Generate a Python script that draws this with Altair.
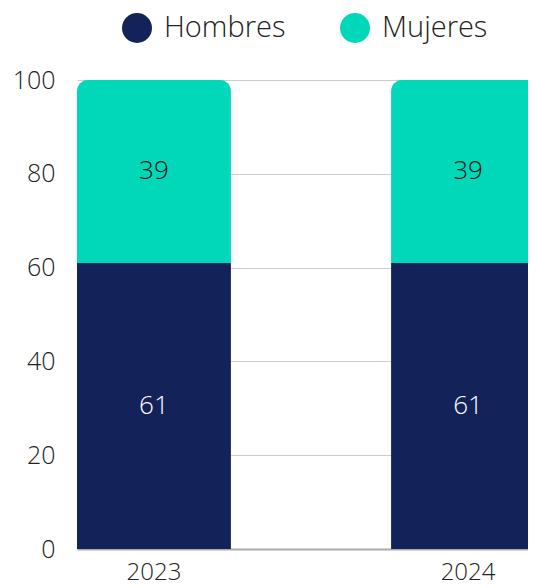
import altair as alt
import pandas as pd

years = ["2023", "2024"]
hombres = [61, 61]
mujeres = [39, 39]
series = ["Hombres", "Mujeres"]
colors = ["#14225a", "#00d8b9"]

rows = []
for i, y in enumerate(years):
    rows.append({"year": y, "serie": "Hombres", "value": hombres[i], "start": 0, "end": hombres[i]})
    rows.append({"year": y, "serie": "Mujeres", "value": mujeres[i], "start": hombres[i], "end": hombres[i] + mujeres[i]})
df = pd.DataFrame(rows)

FONT = "Open Sans"
FW = 300

x = alt.X("year:N", title=None, sort=years,
          scale=alt.Scale(paddingInner=0.51, paddingOuter=0, range=[0, 468]),
          axis=alt.Axis(labelAngle=0, labelFontSize=24, labelFont=FONT, labelFontWeight=FW,
                        labelColor="#222", labelPadding=11, ticks=False, domain=False))
y = alt.Y("start:Q", title=None, scale=alt.Scale(domain=[0, 100]),
          axis=alt.Axis(values=[0, 20, 40, 60, 80, 100], labelFontSize=25, labelFont=FONT,
                        labelFontWeight=FW, labelColor="#222",
                        labelPadding=22, ticks=False, domain=False,
                        gridColor=alt.condition(alt.datum.value == 0, alt.value("#aaaaaa"), alt.value("#cccccc")),
                        gridWidth=alt.condition(alt.datum.value == 0, alt.value(2), alt.value(1))))
color = alt.Color("serie:N", scale=alt.Scale(domain=series, range=colors),
                  legend=alt.Legend(title=None, orient="none", direction="horizontal",
                                    legendX=45, legendY=-67, symbolType="circle", symbolSize=900,
                                    symbolStrokeWidth=0, labelFontSize=29, labelFont=FONT,
                                    labelFontWeight=FW, labelColor="#222", columnPadding=54,
                                    labelOffset=12))

base = alt.Chart(df)

bar_h = base.transform_filter(alt.datum.serie == "Hombres").mark_bar(clip=True).encode(
    x=x, y=y, y2="end:Q", color=color)
bar_m = base.transform_filter(alt.datum.serie == "Mujeres").mark_bar(
    clip=True, cornerRadiusTopLeft=11, cornerRadiusTopRight=11).encode(
    x=x, y=y, y2="end:Q", color=color)

text = base.transform_calculate(mid="(datum.start + datum.end) / 2").mark_text(
    fontSize=26, font=FONT, fontWeight=FW).encode(
    x=alt.X("year:N", sort=years),
    y=alt.Y("mid:Q"),
    text="value:Q",
    color=alt.condition(alt.datum.serie == "Hombres", alt.value("white"), alt.value("#111111")))

chart = alt.layer(bar_h, bar_m, text).properties(
    width=451, height=469,
    autosize=alt.AutoSizeParams(type="none"),
    padding={"left": 69, "top": 72, "right": 0, "bottom": 40},
).configure_view(stroke=None)

chart.save("out.html", embed_options={"renderer": "svg", "actions": False})
